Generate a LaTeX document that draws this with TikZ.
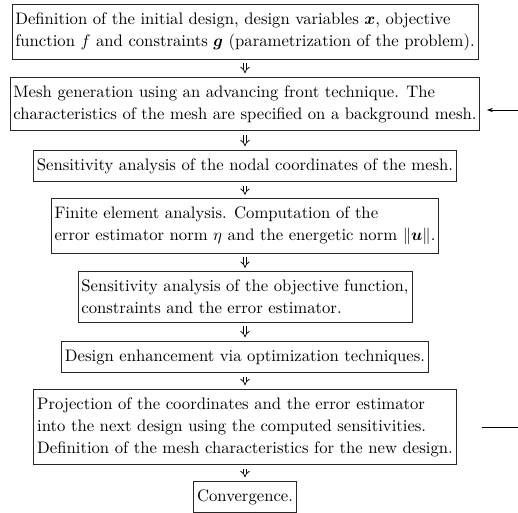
\documentclass[tikz,border=0pt]{standalone}
\usepackage{amsmath}
\usetikzlibrary{arrows.meta}
\usetikzlibrary{calc}
\colorlet{boxlines}{black!85}

\begin{document}
\begin{tikzpicture}[x=0.6pt, y=-0.6pt,
        stage/.style={draw=boxlines, line width=0.5pt, align=left, inner xsep=2pt, inner ysep=4.9pt,
            font=\fontsize{10}{13.2}\selectfont},
        flow/.style={double, double distance=1.5pt, line width=0.45pt, -{Implies},
            shorten <=2.2pt, shorten >=2.2pt}]
        % page frame, one unit is one pixel of the scan
        \useasboundingbox (0,0) rectangle (518,513);
        \coordinate (rightedge) at (518,0);
        % steps of the design loop, centred on one column
        \node[stage] (def) at (245,32)
        {Definition of the initial design, design variables $\boldsymbol{x}$, objective\\
         function $f$ and constraints $\boldsymbol{g}$ (parametrization of the problem).};
        \node[stage] (mesh) at (245,104)
        {Mesh generation using an advancing front technique. The\\
         characteristics of the mesh are specified on a background mesh.};
        \node[stage] (nodal) at (245,166)
        {Sensitivity analysis of the nodal coordinates of the mesh.};
        \node[stage] (fem) at (245,226)
        {Finite element analysis. Computation of the\\
         error estimator norm $\eta$ and the energetic norm $\|\boldsymbol{u}\|$.};
        \node[stage] (sens) at (245,297)
        {Sensitivity analysis of the objective function,\\
         constraints and the error estimator.};
        \node[stage] (opt) at (245,357)
        {Design enhancement via optimization techniques.};
        \node[stage] (proj) at (245,427)
        {Projection of the coordinates and the error estimator\\
         into the next design using the computed sensitivities.\\
         Definition of the mesh characteristics for the new design.};
        \node[stage] (conv) at (245,497) {Convergence.};
        % double arrows between the steps
        \foreach \a/\b in {def/mesh,mesh/nodal,nodal/fem,fem/sens,sens/opt,opt/proj,proj/conv}
        {
            \draw[flow] (\a) -- (\b);
        }
        % loop back: into the mesh generation, out of the projection
        \coordinate (loopin) at ($(mesh.east)+(4pt,-3.6pt)$);
        \draw[{Stealth[length=3.5pt,width=2.5pt]}-] (loopin) -- (loopin -| rightedge);
        \coordinate (loopout) at ($(proj.east)+(15pt,0pt)$);
        \draw (loopout) -- (loopout -| rightedge);
    \end{tikzpicture}
\end{document}
